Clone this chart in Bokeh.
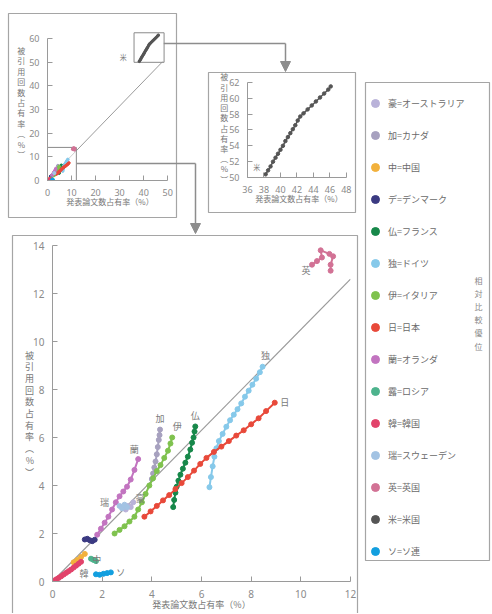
from bokeh.plotting import figure
from bokeh.models import (Range1d, Legend, LegendItem, Arrow, NormalHead,
                          SingleIntervalTicker, ColumnDataSource)
from bokeh.core.properties import value
from bokeh.embed import file_html
from bokeh.resources import INLINE

FONT = "Noto Sans CJK JP"
NUMFONT = "Noto Sans"

# ---------------- data ----------------
LEGEND_LABELS = ["豪=オーストラリア", "加=カナダ", "中=中国", "デ=デンマーク", "仏=フランス",
                 "独=ドイツ", "伊=イタリア", "日=日本", "蘭=オランダ", "露=ロシア", "韓=韓国",
                 "瑞=スウェーデン", "英=英国", "米=米国", "ソ=ソ連"]
ABBR = ["豪", "加", "中", "デ", "仏", "独", "伊", "日", "蘭", "露", "韓", "瑞", "英", "米", "ソ"]

AUS_X = [2.95, 3.05, 3.15, 3.25]
AUS_Y = [3.0, 3.15, 3.1, 3.3]
CAN_X = [4.0, 4.05, 4.1, 4.15, 4.2, 4.24, 4.28, 4.31, 4.33]
CAN_Y = [4.27, 4.5, 4.75, 5.0, 5.3, 5.6, 5.9, 6.1, 6.33]
CHN_X = [0.85, 1.0, 1.15, 1.3]
CHN_Y = [0.8, 0.9, 1.02, 1.15]
DEN_X = [1.3, 1.4, 1.5, 1.6, 1.7]
DEN_Y = [1.75, 1.78, 1.72, 1.68, 1.74]
FRA_X = [4.86, 4.9, 4.95, 5.0, 5.07, 5.15, 5.25, 5.35, 5.45, 5.55, 5.62, 5.68, 5.72, 5.75]
FRA_Y = [3.1, 3.4, 3.7, 3.95, 4.2, 4.45, 4.7, 4.95, 5.2, 5.5, 5.78, 6.0, 6.25, 6.46]
GER_X = [6.32, 6.38, 6.45, 6.52, 6.6, 6.7, 6.85, 7.0, 7.15, 7.3, 7.45, 7.6, 7.75, 7.9, 8.05, 8.2, 8.35, 8.46]
GER_Y = [3.93, 4.35, 4.8, 5.2, 5.55, 5.85, 6.15, 6.45, 6.72, 6.95, 7.18, 7.42, 7.7, 7.95, 8.2, 8.45, 8.72, 8.95]
ITA_X = [2.5, 2.7, 2.9, 3.1, 3.3, 3.45, 3.6, 3.75, 3.9, 4.05, 4.2, 4.35, 4.5, 4.65, 4.75, 4.82]
ITA_Y = [2.0, 2.15, 2.3, 2.5, 2.7, 3.0, 3.3, 3.65, 4.0, 4.3, 4.6, 4.85, 5.15, 5.45, 5.75, 6.0]
JPN_X = [3.7, 3.95, 4.2, 4.45, 4.7, 4.95, 5.2, 5.45, 5.7, 5.95, 6.2, 6.5, 6.8, 7.1, 7.4, 7.7, 8.0, 8.3, 8.6, 8.95]
JPN_Y = [2.7, 2.92, 3.15, 3.38, 3.6, 3.85, 4.1, 4.35, 4.62, 4.9, 5.15, 5.4, 5.62, 5.85, 6.08, 6.3, 6.55, 6.8, 7.1, 7.45]
NLD_X = [1.8, 1.95, 2.1, 2.25, 2.4, 2.55, 2.7, 2.85, 3.0, 3.15, 3.3, 3.45]
NLD_Y = [1.95, 2.2, 2.45, 2.7, 3.0, 3.3, 3.55, 3.75, 3.95, 4.25, 4.65, 5.1]
RUS_X = [1.55, 1.65, 1.75]
RUS_Y = [0.95, 0.9, 0.85]
KOR_X = [0.05, 0.15, 0.25, 0.35, 0.45, 0.55, 0.65, 0.75, 0.85, 0.95, 1.05, 1.15]
KOR_Y = [0.03, 0.09, 0.15, 0.22, 0.29, 0.36, 0.43, 0.5, 0.58, 0.66, 0.74, 0.82]
SWE_X = [2.7, 2.8, 2.9, 3.0]
SWE_Y = [3.15, 3.05, 3.2, 3.1]
GBR_X = [10.45, 10.65, 10.85, 10.8, 11.15, 11.3, 11.2, 11.2]
GBR_Y = [13.2, 13.35, 13.5, 13.8, 13.65, 13.55, 13.2, 12.95]
USA_X = [38.2, 38.5, 38.8, 39.1, 39.4, 39.7, 40.0, 40.3, 40.6, 40.9, 41.2, 41.5, 41.8, 42.1, 42.4,
         42.8, 43.3, 43.8, 44.3, 44.8, 45.3, 45.8, 46.1]
USA_Y = [50.4, 50.9, 51.4, 52.0, 52.5, 53.0, 53.5, 54.0, 54.6, 55.1, 55.6, 56.1, 56.6, 57.2, 57.7,
         58.1, 58.6, 59.1, 59.6, 60.1, 60.6, 61.1, 61.5]
SUN_X = [1.75, 1.9, 2.05, 2.2, 2.35]
SUN_Y = [0.3, 0.28, 0.32, 0.35, 0.38]

SERIES_X = [AUS_X, CAN_X, CHN_X, DEN_X, FRA_X, GER_X, ITA_X, JPN_X, NLD_X, RUS_X, KOR_X, SWE_X, GBR_X, USA_X, SUN_X]
SERIES_Y = [AUS_Y, CAN_Y, CHN_Y, DEN_Y, FRA_Y, GER_Y, ITA_Y, JPN_Y, NLD_Y, RUS_Y, KOR_Y, SWE_Y, GBR_Y, USA_Y, SUN_Y]

DIAG_SLOPE = 1.05
MAIN_XR, MAIN_YR = (0, 12), (0, 14)
OV_XR, OV_YR = (0, 52), (0, 66)
IN_XR, IN_YR = (36, 48.5), (50, 62.5)

X_LABEL = "発表論文数占有率（%）"
Y_LABEL = "被引用回数占有率（%）"
SIDE_TEXT = "相対比較優位"

# ---------------- styles / layout (pixels) ----------------
COLORS = ["#b9b2d9", "#a7a1bf", "#f2b13c", "#3b3a82", "#17884a", "#86c9ea", "#7fc24e", "#e8493a",
          "#c274c0", "#4db38d", "#e2436b", "#a3c3e3", "#d27295", "#555555", "#139fdf"]
LABEL_POS = [("end", 7, -4), ("end", 0, -11), ("end", 12, 6), None, ("end", 0, -11),
             ("end", 3, -11), ("end", 5, -11), ("end", 10, 0), ("end", -4, -10), None,
             ("end", 3, 12), ("start", -15, -3), ("start", -6, 6), None, ("end", 10, 0)]

W, H = 491, 613
GRAY = "#8d8d8d"


def layer(fl, ft, fr, fb, xr, yr, axes=True, first=False):
    kw = {} if axes else dict(x_axis_type=None, y_axis_type=None)
    p = figure(width=W, height=H, x_range=Range1d(*xr), y_range=Range1d(*yr),
               min_border_left=fl, min_border_top=ft,
               min_border_right=W - fr, min_border_bottom=H - fb,
               toolbar_location=None, output_backend="svg",
               margin=(0, 0, 0, 0) if first else (-H, 0, 0, 0), **kw)
    p.border_fill_color = None
    p.background_fill_color = None
    p.outline_line_color = None
    p.grid.visible = False
    return p


def style_axes(p, xint, yint, xb, yb, tick_fs, lab_fs, lab_lh, ylab_standoff):
    p.xaxis.ticker = SingleIntervalTicker(interval=xint)
    p.yaxis.ticker = SingleIntervalTicker(interval=yint)
    p.xaxis.bounds = xb
    p.yaxis.bounds = yb
    for ax in (p.xaxis[0], p.yaxis[0]):
        ax.axis_line_color = "#9a9a9a"
        ax.major_tick_line_color = "#9a9a9a"
        ax.major_tick_in = 5
        ax.major_tick_out = 0
        ax.minor_tick_line_color = None
        ax.major_label_text_font = NUMFONT
        ax.major_label_text_font_size = tick_fs
        ax.major_label_text_color = "#8a8a8a"
        ax.major_label_standoff = 4
        ax.axis_label_text_font = FONT
        ax.axis_label_text_font_size = lab_fs
        ax.axis_label_text_color = "#777777"
        ax.axis_label_text_font_style = "normal"
    p.xaxis.axis_label_standoff = -3
    p.yaxis.axis_label_standoff = ylab_standoff
    p.xaxis.axis_label = X_LABEL
    vert = Y_LABEL.replace("（", "︵").replace("）", "︶")
    p.yaxis.axis_label = "\n".join(vert)
    p.yaxis.axis_label_orientation = "horizontal"
    p.yaxis.axis_label_text_line_height = lab_lh


# ---------------- background (frames + connectors) ----------------
bg = layer(0, 0, W, H, (0, W), (H, 0), axes=False, first=True)
BOX_L = [8, 208, 12, 365]
BOX_R = [176, 355, 357, 489]
BOX_T = [13, 72, 235, 82]
BOX_B = [217, 212, 614, 560]
bg.quad(left=BOX_L, right=BOX_R, top=BOX_T, bottom=BOX_B, fill_color=None,
        line_color="#a5a5a5", line_width=1.2)
bg.line(x=[163, 285], y=[43, 43], line_color=GRAY, line_width=1.5)
bg.line(x=[76, 195], y=[163, 163], line_color=GRAY, line_width=1.5)
bg.add_layout(Arrow(x_start=285, y_start=43, x_end=285, y_end=71, line_color=GRAY, line_width=1.5,
                    end=NormalHead(size=10, fill_color=GRAY, line_color=GRAY)))
bg.add_layout(Arrow(x_start=195, y_start=163, x_end=195, y_end=233, line_color=GRAY, line_width=1.5,
                    end=NormalHead(size=10, fill_color=GRAY, line_color=GRAY)))
bg.text(x=[478], y=[274], text=["\n".join(SIDE_TEXT)], text_font=value(FONT),
        text_font_size=value("8px"), text_color="#888888", text_align="center",
        text_baseline="top", text_line_height=1.2)

# ---------------- overview ----------------
ov = layer(47, 24, 172, 180, OV_XR, OV_YR)
style_axes(ov, 10, 10, (0, 50), (0, 60), "9px", "8px", 0.95, 1)
ov.line(x=[0, 48], y=[0, 48 * DIAG_SLOPE], line_color="#9a9a9a", line_width=1)
ov.quad(left=[MAIN_XR[0], IN_XR[0]], right=[MAIN_XR[1], IN_XR[1]],
        bottom=[MAIN_YR[0], IN_YR[0]], top=[MAIN_YR[1], IN_YR[1]],
        fill_color="white", fill_alpha=0.5, line_color="#8a8a8a", line_width=1)
for xs, ys, c in zip(SERIES_X, SERIES_Y, COLORS):
    ov.line(x=xs, y=ys, line_color=c, line_width=1.3)
    ov.scatter(x=xs, y=ys, size=2.5, color=c)
ov.text(x=[USA_X[0]], y=[USA_Y[0]], text=["米"], x_offset=-16, y_offset=-4,
        text_font=value(FONT), text_font_size=value("7px"), text_color="#777777",
        text_align="center", text_baseline="middle")

# ---------------- inset (USA) ----------------
ins = layer(247, 78, 350, 177, IN_XR, IN_YR)
style_axes(ins, 2, 2, (36, 48), (50, 62), "9px", "8px", 0.93, -2)
ins.line(x=USA_X, y=USA_Y, line_color=COLORS[13], line_width=1.5)
ins.scatter(x=USA_X, y=USA_Y, size=3.5, color=COLORS[13])
ins.text(x=[USA_X[0]], y=[USA_Y[0]], text=["米"], x_offset=-9, y_offset=-7,
         text_font=value(FONT), text_font_size=value("7px"), text_color="#777777",
         text_align="center", text_baseline="middle")

# ---------------- main plot ----------------
mp = layer(52, 245, 350, 583, MAIN_XR, MAIN_YR)
style_axes(mp, 2, 2, MAIN_XR, MAIN_YR, "10px", "9px", 0.9, -4)
mp.line(x=[0, MAIN_XR[1]], y=[0, MAIN_XR[1] * DIAG_SLOPE], line_color="#9a9a9a", line_width=1.2)
lab = dict(x=[], y=[], t=[], xo=[], yo=[])
for i, (xs, ys, c) in enumerate(zip(SERIES_X, SERIES_Y, COLORS)):
    mp.line(x=xs, y=ys, line_color=c, line_width=2)
    mp.scatter(x=xs, y=ys, size=5, color=c)
    if LABEL_POS[i] is not None:
        anchor, xo, yo = LABEL_POS[i]
        k = -1 if anchor == "end" else 0
        lab["x"].append(xs[k]); lab["y"].append(ys[k]); lab["t"].append(ABBR[i])
        lab["xo"].append(xo); lab["yo"].append(yo)
mp.text(x="x", y="y", text="t", x_offset="xo", y_offset="yo", source=ColumnDataSource(lab),
        text_font=value(FONT), text_font_size=value("9px"), text_color="#7a7a7a",
        text_align="center", text_baseline="middle")

# ---------------- legend panel (its own layer; series kept out of its view) ----------------
lg = layer(365, 93, 489, 561, (-2, -1), (-2, -1), axes=False)
items = []
for i, (xs, ys, c) in enumerate(zip(SERIES_X, SERIES_Y, COLORS)):
    r = lg.scatter(x=xs, y=ys, size=8, color=c)
    items.append(LegendItem(label=LEGEND_LABELS[i], renderers=[r]))
legend = Legend(items=items, location="top_left", orientation="vertical",
                glyph_width=20, glyph_height=20, label_height=20, spacing=12,
                padding=0, margin=0, border_line_color=None, background_fill_alpha=0,
                label_text_font=FONT, label_text_font_size="9px", label_text_color="#6a6a6a",
                label_standoff=3)
lg.add_layout(legend)

open("out.html", "w").write(file_html([bg, ov, ins, mp, lg], INLINE))
